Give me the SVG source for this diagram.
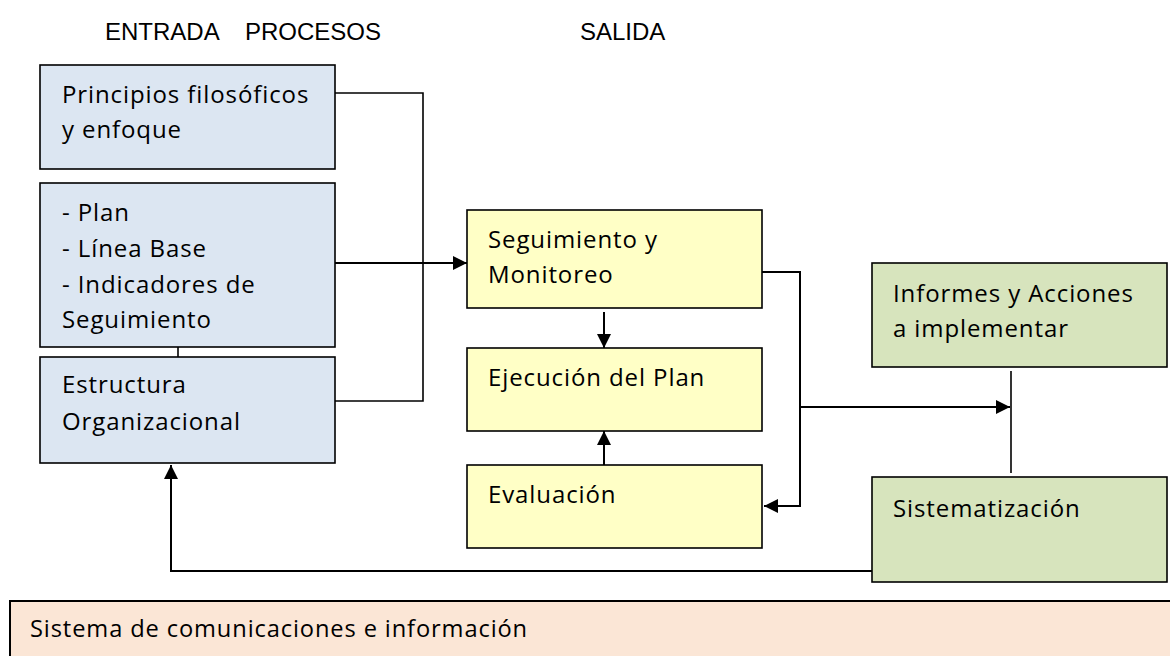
<svg xmlns="http://www.w3.org/2000/svg" width="1170" height="656" viewBox="0 0 1170 656">
<style>
.hdr{font-family:"Liberation Sans",Arial,sans-serif;font-size:24px;fill:#000}
.t{font-family:"Open Sans","Noto Sans",sans-serif;font-size:24px;letter-spacing:0.9px;fill:#000}
.blue{fill:#dce6f2;stroke:#000;stroke-width:1.6}
.yel{fill:#ffffc6;stroke:#000;stroke-width:1.6}
.grn{fill:#d7e4bd;stroke:#000;stroke-width:1.6}
.pch{fill:#fbe6d6;stroke:#000;stroke-width:2}
.c{fill:none;stroke:#000;stroke-width:1.6}
.ca{fill:none;stroke:#000;stroke-width:2;marker-end:url(#ah)}
</style>
<defs>
<marker id="ah" markerUnits="userSpaceOnUse" markerWidth="14" markerHeight="14" viewBox="0 0 14 14" refX="14" refY="7" orient="auto">
<path d="M0,0 L14,7 L0,14 Z" fill="#000"/>
</marker>
</defs>
<rect width="1170" height="656" fill="#fff"/>
<g id="headers">
<text class="hdr" x="105" y="40">ENTRADA</text>
<text class="hdr" x="245" y="40">PROCESOS</text>
<text class="hdr" x="580" y="40">SALIDA</text>
</g>
<g id="connectors">
<polyline class="c" points="335,93 423,93 423,401 335,401"/>
<line class="c" x1="178" y1="335" x2="178" y2="357"/>
<line class="ca" x1="335" y1="263" x2="467" y2="263"/>
<line class="ca" x1="604" y1="312" x2="604" y2="348"/>
<line class="ca" x1="604" y1="465" x2="604" y2="431"/>
<polyline class="ca" points="762,272 800,272 800,506 764,506"/>
<line class="ca" x1="800" y1="407" x2="1010" y2="407"/>
<line class="c" x1="1011" y1="371" x2="1011" y2="473"/>
<polyline class="ca" points="872,571 171,571 171,465"/>
</g>
<g id="n-principios">
<rect class="blue" x="40" y="65" width="295" height="104"/>
<text class="t" x="62" y="103">Principios filosóficos</text>
<text class="t" x="62" y="138">y enfoque</text>
</g>
<g id="n-plan">
<rect class="blue" x="40" y="183" width="295" height="164"/>
<text class="t" x="62" y="221">- Plan</text>
<text class="t" x="62" y="257">- Línea Base</text>
<text class="t" x="62" y="293">- Indicadores de</text>
<text class="t" x="62" y="328">Seguimiento</text>
</g>
<g id="n-estructura">
<rect class="blue" x="40" y="357" width="295" height="106"/>
<text class="t" x="62" y="393">Estructura</text>
<text class="t" x="62" y="430">Organizacional</text>
</g>
<g id="n-seguimiento">
<rect class="yel" x="467" y="210" width="295" height="98"/>
<text class="t" x="488" y="248">Seguimiento y</text>
<text class="t" x="488" y="283">Monitoreo</text>
</g>
<g id="n-ejecucion">
<rect class="yel" x="467" y="348" width="295" height="83"/>
<text class="t" x="488" y="386">Ejecución del Plan</text>
</g>
<g id="n-evaluacion">
<rect class="yel" x="467" y="465" width="295" height="83"/>
<text class="t" x="488" y="503">Evaluación</text>
</g>
<g id="n-informes">
<rect class="grn" x="872" y="263" width="295" height="104"/>
<text class="t" x="893" y="302">Informes y Acciones</text>
<text class="t" x="893" y="337">a implementar</text>
</g>
<g id="n-sistematizacion">
<rect class="grn" x="872" y="477" width="295" height="105"/>
<text class="t" x="893" y="517">Sistematización</text>
</g>
<g id="n-sistema">
<rect class="pch" x="10" y="601" width="1170" height="70"/>
<text class="t" x="30" y="637" textLength="498" lengthAdjust="spacingAndGlyphs">Sistema de comunicaciones e información</text>
</g>
</svg>
